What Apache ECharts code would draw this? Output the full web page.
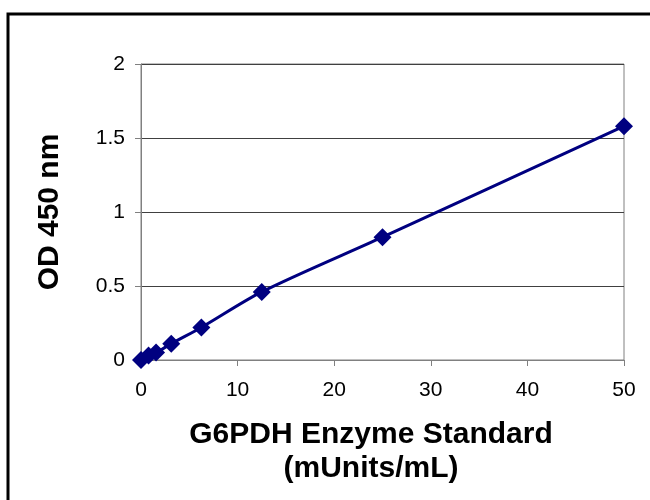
<!DOCTYPE html>
<html>
<head>
<meta charset="utf-8">
<script src="https://cdn.jsdelivr.net/npm/echarts@6/dist/echarts.min.js"></script>
<style>
    html, body { margin: 0; padding: 0; background: #fff; }
    #chart { width: 650px; height: 500px; }
</style>
</head>
<body>
<div id="chart"></div>
<script>
// 标准曲线数据（浓度 mUnits/mL，OD 450 nm）
const concentrations = [0, 0.78, 1.56, 3.13, 6.25, 12.5, 25, 50]
const odValues = [0, 0.03, 0.05, 0.11, 0.22, 0.46, 0.83, 1.58]
const xTitleLines = ['G6PDH Enzyme Standard', '(mUnits/mL)']
const yTitle = 'OD 450 nm'

const font = 'Liberation Sans, Arial, sans-serif'
const myChart = echarts.init(document.getElementById('chart'))

const options = {
    animation: false,
    backgroundColor: '#fff',
    // x 轴标题（两行，居中）
    title: xTitleLines.map((text, i) => ({
        text: text,
        left: 366,
        top: 415 + i * 34,
        textAlign: 'center',
        textStyle: { fontFamily: font, fontSize: 30, fontWeight: 'bold', color: '#000' }
    })),
    // 外框
    graphic: [{
        type: 'rect',
        shape: { x: 8, y: 14, width: 700, height: 600 },
        style: { fill: 'none', stroke: '#000', lineWidth: 3 },
        silent: true
    }],
    grid: {
        left: 141,
        right: 26,
        top: 64,
        bottom: 140,
        show: true,
        borderColor: '#808080',
        borderWidth: 1
    },
    xAxis: {
        type: 'value',
        min: 0,
        max: 50,
        interval: 10,
        axisLine: { show: true, onZero: false, lineStyle: { color: '#808080', width: 1 } },
        axisTick: { show: true, inside: false, length: 6, lineStyle: { color: '#808080' } },
        axisLabel: { margin: 20, fontFamily: font, fontSize: 21, color: '#000' },
        splitLine: { show: false }
    },
    yAxis: {
        type: 'value',
        min: 0,
        max: 2,
        interval: 0.5,
        name: yTitle,
        nameLocation: 'middle',
        nameGap: 76,
        nameTextStyle: { fontFamily: font, fontSize: 30, fontWeight: 'bold', color: '#000' },
        axisLine: { show: true, lineStyle: { color: '#808080', width: 1 } },
        axisTick: { show: true, inside: false, length: 6, lineStyle: { color: '#808080' } },
        axisLabel: { margin: 16, fontFamily: font, fontSize: 21, color: '#000' },
        splitLine: { show: true, lineStyle: { color: '#404040', width: 1 } }
    },
    series: [{
        type: 'line',
        data: concentrations.map((x, i) => [x, odValues[i]]),
        smooth: 0.3,
        symbol: 'diamond',
        symbolSize: 18,
        itemStyle: { color: '#000080' },
        lineStyle: { color: '#000080', width: 3 }
    }]
}

myChart.setOption(options)
</script>
</body>
</html>
